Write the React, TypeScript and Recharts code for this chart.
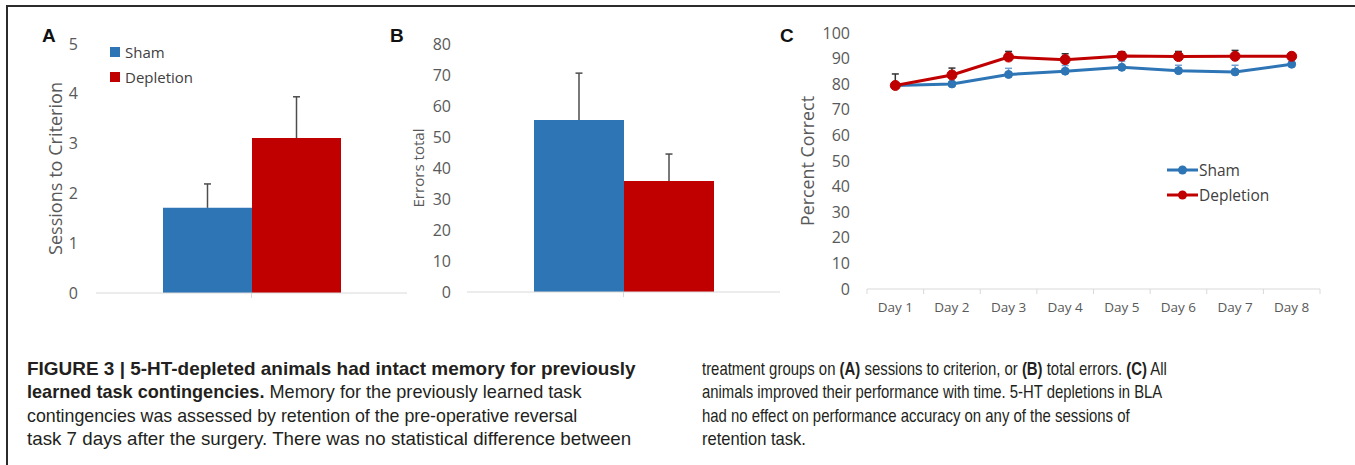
import React from 'react';
import { BarChart, Bar, XAxis, YAxis, ErrorBar, LineChart, Line, Legend } from 'recharts';

const groups = ['Sham', 'Depletion'];
const sessionsMean = [1.71, 3.11];
const sessionsErr = [0.48, 0.83];
const errorsMean = [55.5, 35.8];
const errorsErr = [15.1, 8.7];
const sessionTicks = [0, 1, 2, 3, 4, 5];
const errorTicks = [0, 10, 20, 30, 40, 50, 60, 70, 80];
const pctTicks = [0, 10, 20, 30, 40, 50, 60, 70, 80, 90, 100];
const days = ['Day 1', 'Day 2', 'Day 3', 'Day 4', 'Day 5', 'Day 6', 'Day 7', 'Day 8'];
const shamPct = [79.5, 80.1, 83.8, 85.1, 86.6, 85.3, 84.8, 87.8];
const shamPctErr = [0.5, 0.5, 2.4, 2.2, 2.4, 2.1, 2.6, 0.5];
const depPct = [79.5, 83.6, 90.6, 89.6, 91.0, 90.8, 90.9, 90.9];
const depPctErr = [4.5, 2.7, 2.2, 2.3, 1.7, 2.0, 2.3, 1.2];

const F = "'Open Sans', sans-serif";
const TICK = '#595959';
const AXIS = '#d9d9d9';
const BLUE = '#2E75B6';
const RED = '#C00000';

const barDataA = [{ name: 'A', sham: sessionsMean[0], shamErr: [0, sessionsErr[0]], dep: sessionsMean[1], depErr: [0, sessionsErr[1]] }];
const barDataB = [{ name: 'B', sham: errorsMean[0], shamErr: [0, errorsErr[0]], dep: errorsMean[1], depErr: [0, errorsErr[1]] }];
const lineData = days.map((d, i) => ({
  day: d,
  sham: shamPct[i],
  shamErr: [0, shamPctErr[i]],
  dep: depPct[i],
  depErr: [0, depPctErr[i]],
}));

const yLabel = (text: string, dx: number, size: number, len: number) => (props: any) => {
  const vb = props.viewBox || {};
  const cx = vb.x + vb.width - dx;
  const cy = vb.y + vb.height / 2;
  return (
    <text
      x={cx}
      y={cy}
      transform={`rotate(-90 ${cx} ${cy})`}
      textAnchor="middle"
      dominantBaseline="central"
      fontFamily={F}
      fontSize={size}
      fill={TICK}
      textLength={len}
      lengthAdjust="spacingAndGlyphs"
    >
      {text}
    </text>
  );
};

const ordered = (payload: any[]) =>
  [...(payload || [])].sort((a, b) => groups.indexOf(a.value) - groups.indexOf(b.value));

const SquareLegend = (props: any) => (
  <div style={{ fontFamily: F, fontSize: 15, color: '#404040' }}>
    {ordered(props.payload).map((p: any) => (
      <div key={p.value} style={{ display: 'flex', alignItems: 'center', height: 25, whiteSpace: 'nowrap' }}>
        <span style={{ display: 'inline-block', width: 10, height: 10, background: p.color, marginRight: 5 }} />
        <span>{p.value}</span>
      </div>
    ))}
  </div>
);

const LineLegend = (props: any) => (
  <div style={{ fontFamily: F, fontSize: 15.5, color: '#404040' }}>
    {ordered(props.payload).map((p: any) => (
      <div key={p.value} style={{ display: 'flex', alignItems: 'center', height: 25, whiteSpace: 'nowrap' }}>
        <svg width={31} height={10} style={{ display: 'block' }}>
          <line x1={0} y1={5} x2={31} y2={5} stroke={p.color} strokeWidth={3} />
          <circle cx={15.5} cy={5} r={4.5} fill={p.color} />
        </svg>
        <span style={{ marginLeft: 1 }}>{p.value}</span>
      </div>
    ))}
  </div>
);

const DayTick = (props: any) => {
  const { x, y, payload, index, visibleTicksCount, width } = props;
  const half =
    width && visibleTicksCount ? width / visibleTicksCount / 2 : payload && payload.offset ? payload.offset : 28;
  return (
    <g>
      <line x1={x - half} x2={x - half} y1={y} y2={y + 5} stroke={AXIS} />
      {index === visibleTicksCount - 1 && <line x1={x + half} x2={x + half} y1={y} y2={y + 5} stroke={AXIS} />}
      <text x={x} y={y + 13} dy="0.71em" textAnchor="middle" fontFamily={F} fontSize={13.5} fill={TICK}>
        {payload.value}
      </text>
    </g>
  );
};

const frameAxisProps = {
  type: 'number' as const,
  tickFormatter: () => '',
  tickSize: 5,
  interval: 0 as const,
  axisLine: { stroke: AXIS },
  tickLine: { stroke: AXIS },
};

const tickStyle = { fontFamily: F, fontSize: 16, fill: TICK };

const captionLeft = [
  { y: 375, len: 609, parts: [{ t: 'FIGURE 3 | 5-HT-depleted animals had intact memory for previously', b: true }] },
  { y: 398.3, len: 555, parts: [{ t: 'learned task contingencies.', b: true }, { t: ' Memory for the previously learned task', b: false }] },
  { y: 421.6, len: 551, parts: [{ t: 'contingencies was assessed by retention of the pre-operative reversal', b: false }] },
  { y: 445, len: 605, parts: [{ t: 'task 7 days after the surgery. There was no statistical difference between', b: false }] },
];
const captionRight = [
  { y: 375, len: 466, parts: [{ t: 'treatment groups on ', b: false }, { t: '(A)', b: true }, { t: ' sessions to criterion, or ', b: false }, { t: '(B)', b: true }, { t: ' total errors. ', b: false }, { t: '(C)', b: true }, { t: ' All', b: false }] },
  { y: 398.3, len: 461, parts: [{ t: 'animals improved their performance with time. 5-HT depletions in BLA', b: false }] },
  { y: 421.6, len: 428, parts: [{ t: 'had no effect on performance accuracy on any of the sessions of', b: false }] },
  { y: 445, len: 104, parts: [{ t: 'retention task.', b: false }] },
];

const CF = "'Liberation Sans Narrow', 'Arial Narrow', 'Liberation Sans', Arial, sans-serif";
const CAP_SIZE = 17.5;

let measureCtx: CanvasRenderingContext2D | null = null;
const measure = (text: string, bold: boolean) => {
  if (!measureCtx) measureCtx = document.createElement('canvas').getContext('2d');
  if (!measureCtx) return text.length * CAP_SIZE * 0.5;
  measureCtx.font = `${bold ? 'bold ' : ''}${CAP_SIZE}px ${CF}`;
  return measureCtx.measureText(text).width;
};

const CaptionLines = ({ x, lines }: { x: number; lines: any[] }) => (
  <>
    {lines.map((ln, i) => {
      const natural = ln.parts.reduce((s: number, p: any) => s + measure(p.t, p.b), 0);
      const sx = natural > 0 ? ln.len / natural : 1;
      return (
        <g key={i} transform={`translate(${x} ${ln.y}) scale(${sx} 1)`}>
          <text x={0} y={0} fontFamily={CF} fontSize={CAP_SIZE} fill="#231f20" style={{ whiteSpace: 'pre' }}>
            {ln.parts.map((p: any, j: number) => (
              <tspan key={j} fontWeight={p.b ? 'bold' : 'normal'}>
                {p.t}
              </tspan>
            ))}
          </text>
        </g>
      );
    })}
  </>
);

export default function App() {
  return (
    <div style={{ position: 'absolute', left: 0, top: 0, width: 1355, height: 465, background: '#fff', overflow: 'hidden' }}>
      <style>{`.recharts-errorBar > :nth-child(3) { display: none; }`}</style>
      <div
        style={{
          position: 'absolute',
          left: 6,
          top: 5,
          width: 1360,
          height: 470,
          borderTop: '2px solid #2b2b2b',
          borderLeft: '2px solid #2b2b2b',
        }}
      />

      {/* Panel A */}
      <div style={{ position: 'absolute', left: 0, top: 0 }}>
        <BarChart
          width={420}
          height={330}
          data={barDataA}
          margin={{ top: 44, right: 13, left: 0, bottom: 27 }}
          barGap={0}
        >
          <XAxis xAxisId={0} {...frameAxisProps} domain={[0, 1]} ticks={[0, 1]} height={10} />
          <XAxis xAxisId="cat" dataKey="name" hide />
          <YAxis
            width={96}
            domain={[0, 5]}
            ticks={sessionTicks}
            interval={0}
            axisLine={false}
            tickLine={false}
            tickSize={0}
            tickMargin={18}
            tick={tickStyle}
            label={{ content: yLabel('Sessions to Criterion', 41, 18, 173) }}
          />
          <Legend
            layout="horizontal"
            verticalAlign="middle"
            align="center"
            content={SquareLegend}
            wrapperStyle={{ position: 'absolute', left: 110, top: 39.5, width: 'auto', height: 'auto' }}
          />
          <Bar xAxisId="cat" dataKey="sham" name={groups[0]} fill={BLUE} barSize={89} isAnimationActive={false}>
            <ErrorBar dataKey="shamErr" direction="y" width={3.5} stroke="#4d4d4d" strokeWidth={1.5} isAnimationActive={false} />
          </Bar>
          <Bar xAxisId="cat" dataKey="dep" name={groups[1]} fill={RED} barSize={89} isAnimationActive={false}>
            <ErrorBar dataKey="depErr" direction="y" width={3.5} stroke="#4d4d4d" strokeWidth={1.5} isAnimationActive={false} />
          </Bar>
        </BarChart>
      </div>

      {/* Panel B */}
      <div style={{ position: 'absolute', left: 380, top: 0 }}>
        <BarChart
          width={420}
          height={330}
          data={barDataB}
          margin={{ top: 44, right: 20, left: 0, bottom: 28 }}
          barGap={0}
        >
          <XAxis xAxisId={0} {...frameAxisProps} domain={[0, 1]} ticks={[0, 1]} height={10} />
          <XAxis xAxisId="cat" dataKey="name" hide />
          <YAxis
            width={87}
            domain={[0, 80]}
            ticks={errorTicks}
            interval={0}
            axisLine={false}
            tickLine={false}
            tickSize={0}
            tickMargin={16}
            tick={tickStyle}
            label={{ content: yLabel('Errors total', 49, 14, 79) }}
          />
          <Bar xAxisId="cat" dataKey="sham" name={groups[0]} fill={BLUE} barSize={90} isAnimationActive={false}>
            <ErrorBar dataKey="shamErr" direction="y" width={3.5} stroke="#4d4d4d" strokeWidth={1.5} isAnimationActive={false} />
          </Bar>
          <Bar xAxisId="cat" dataKey="dep" name={groups[1]} fill={RED} barSize={90} isAnimationActive={false}>
            <ErrorBar dataKey="depErr" direction="y" width={3.5} stroke="#4d4d4d" strokeWidth={1.5} isAnimationActive={false} />
          </Bar>
        </BarChart>
      </div>

      {/* Panel C */}
      <div style={{ position: 'absolute', left: 760, top: 0 }}>
        <LineChart
          width={595}
          height={330}
          data={lineData}
          margin={{ top: 33, right: 35, left: 0, bottom: 11 }}
        >
          <XAxis
            dataKey="day"
            scale="band"
            height={30}
            interval={0}
            axisLine={{ stroke: AXIS }}
            tickLine={false}
            tickSize={0}
            tickMargin={0}
            tick={<DayTick />}
          />
          <YAxis
            width={107}
            domain={[0, 100]}
            ticks={pctTicks}
            interval={0}
            axisLine={false}
            tickLine={false}
            tickSize={0}
            tickMargin={17}
            tick={tickStyle}
            label={{ content: yLabel('Percent Correct', 60, 18, 130) }}
          />
          <Legend
            layout="horizontal"
            verticalAlign="middle"
            align="center"
            content={LineLegend}
            wrapperStyle={{ position: 'absolute', left: 407, top: 157.5, width: 'auto', height: 'auto' }}
          />
          <Line
            dataKey="sham"
            name={groups[0]}
            stroke={BLUE}
            strokeWidth={3}
            dot={{ r: 4, fill: BLUE, stroke: BLUE, strokeWidth: 1 }}
            isAnimationActive={false}
          >
            <ErrorBar dataKey="shamErr" direction="y" width={3.5} stroke="#6f9fd4" strokeWidth={1.5} isAnimationActive={false} />
          </Line>
          <Line
            dataKey="dep"
            name={groups[1]}
            stroke={RED}
            strokeWidth={3}
            dot={{ r: 5, fill: RED, stroke: RED, strokeWidth: 1 }}
            isAnimationActive={false}
          >
            <ErrorBar dataKey="depErr" direction="y" width={3.5} stroke="#333333" strokeWidth={1.5} isAnimationActive={false} />
          </Line>
        </LineChart>
      </div>

      {/* Panel letters and caption */}
      <svg width={1355} height={465} style={{ position: 'absolute', left: 0, top: 0, pointerEvents: 'none' }}>
        <text x={42} y={42} fontFamily="'Liberation Sans', Arial, sans-serif" fontWeight="bold" fontSize={19} fill="#111">A</text>
        <text x={390} y={42} fontFamily="'Liberation Sans', Arial, sans-serif" fontWeight="bold" fontSize={19} fill="#111">B</text>
        <text x={780} y={42} fontFamily="'Liberation Sans', Arial, sans-serif" fontWeight="bold" fontSize={19} fill="#111">C</text>
        <CaptionLines x={27} lines={captionLeft} />
        <CaptionLines x={702} lines={captionRight} />
      </svg>
    </div>
  );
}
